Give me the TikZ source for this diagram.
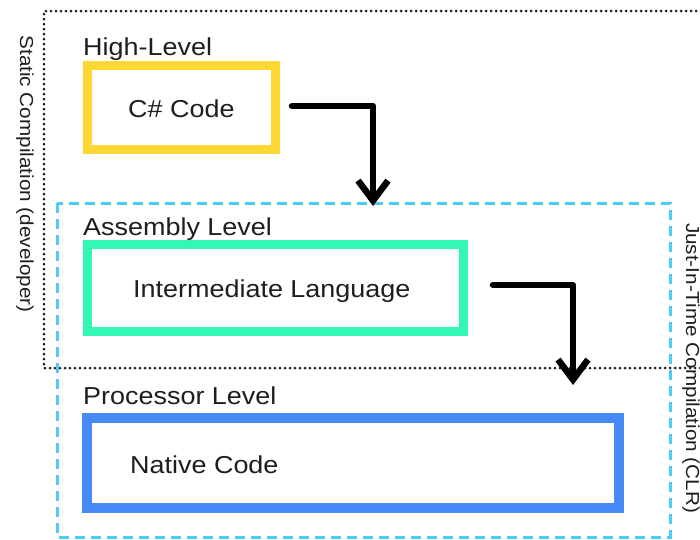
\documentclass[tikz,border=0pt]{standalone}
\usepackage{fontspec}
\setmainfont{Liberation Sans}[FakeStretch=1.1]
\usetikzlibrary{arrows.meta}
\definecolor{ycol}{HTML}{FDD835}
\definecolor{gcol}{HTML}{33F7B5}
\definecolor{bcol}{HTML}{468AF8}
\definecolor{ccol}{HTML}{4FCBF7}
\definecolor{txt}{HTML}{1E1E1E}
\tikzset{
  levelbox/.style={draw=#1, line width=9.5pt, minimum width=0pt, minimum height=0pt, inner sep=0pt, outer sep=0pt},
  lbl/.style={anchor=base west, inner sep=0pt, text=txt, font=\fontsize{24.5}{29}\selectfont},
  sidelbl/.style={inner sep=0pt, text=txt, font=\fontsize{18.8}{22}\selectfont, rotate=-90},
  dotline/.style={draw=txt, line width=3pt, dash pattern=on 0pt off 5pt, line cap=round},
  cyandash/.style={draw=ccol, line width=3pt, dash pattern=on 10pt off 6pt},
  flow/.style={draw=black, line width=6.5pt, line cap=round, line join=round,
    -{Straight Barb[length=20pt, width=30pt, line width=6.5pt]}}
}
\begin{document}
\begin{tikzpicture}[x=1pt,y=-1pt]
\useasboundingbox (0,0) rectangle (700,539);
% static compilation region (dotted, right side off canvas)
\draw[dotline] (706,11) -- (44,11) -- (44,368) -- (706,368);
% JIT region (dashed cyan)
\draw[cyandash] (57,203) rectangle (670,537);
% boxes
\node[levelbox=ycol, minimum width=188pt, minimum height=84pt] (yb) at (181.5,107.5) {};
\node[levelbox=gcol, minimum width=376pt, minimum height=87pt] (gb) at (275.5,288) {};
\node[levelbox=bcol, minimum width=532pt, minimum height=90pt] (bb) at (353,463) {};
% labels
\node[lbl] (hl) at (83,55) {High-Level};
\node[lbl] (al) at (83,235) {Assembly Level};
\node[lbl] (pl) at (83,404) {Processor Level};
\node[lbl] (cs) at (128,117) {C\# Code};
\node[lbl] (il) at (133,297) {Intermediate Language};
\node[lbl] (nc) at (130,473) {Native Code};
\node[sidelbl] (sc) at (25,174) {Static Compilation (developer)};
\node[sidelbl] (jit) at (691,368) {Just-In-Time Compilation (CLR)};
% arrows
\coordinate (t1) at (373,206);
\coordinate (t2) at (573,385);
\draw[flow] ([xshift=16.5pt,yshift=1.5pt]yb.east) -| (t1);
\draw[flow] ([xshift=29.5pt,yshift=3pt]gb.east) -| (t2);
\end{tikzpicture}
\end{document}
